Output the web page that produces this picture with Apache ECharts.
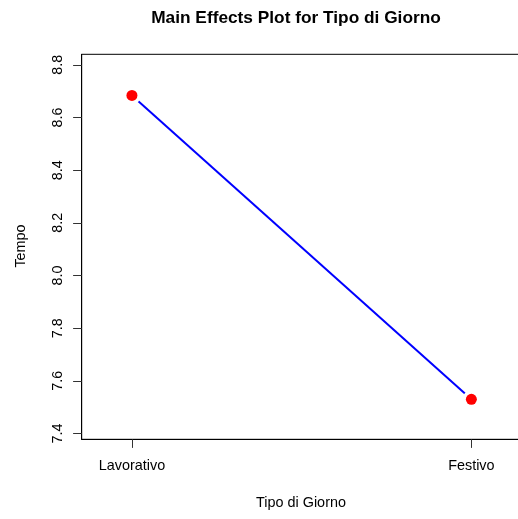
<!DOCTYPE html>
<html>
<head>
<meta charset="utf-8">
<script src="https://cdn.jsdelivr.net/npm/echarts@6/dist/echarts.min.js"></script>
<style>
  html, body { margin: 0; padding: 0; background: #ffffff; }
  #chart { width: 518px; height: 519px; }
</style>
</head>
<body>
<div id="chart"></div>
<script>
// Group levels and the mean response for each level
const categories = ['Lavorativo', 'Festivo'];
const meanTempo = [8.684, 7.530];
// Tick marks shown on the y axis
const yTicks = [7.4, 7.6, 7.8, 8.0, 8.2, 8.4, 8.6, 8.8];

const FONT = '"Liberation Sans", Arial, Helvetica, sans-serif';
const xPos = categories.map((c, i) => i + 1);
const points = meanTempo.map((v, i) => [xPos[i], v]);

const chart = echarts.init(document.getElementById('chart'), null, { renderer: 'canvas' });

chart.setOption({
  animation: false,
  backgroundColor: '#ffffff',
  grid: {
    left: 81.7, top: 54.3, right: -3.6, bottom: 79.7,
    outerBoundsMode: 'none',
    show: true, borderColor: '#000000', borderWidth: 1, backgroundColor: 'transparent'
  },
  xAxis: {
    type: 'value',
    min: 0.852, max: 2.148,
    splitLine: { show: false },
    axisLine: { show: true, lineStyle: { color: '#000000', width: 1 } },
    axisTick: { show: true, length: 8.6, lineStyle: { color: '#333333', width: 1 }, customValues: xPos },
    axisLabel: {
      customValues: xPos,
      margin: 20,
      fontFamily: FONT, fontSize: 14.4, color: '#000000',
      formatter: v => categories[Math.round(v) - 1] || ''
    }
  },
  yAxis: {
    type: 'value',
    min: 7.378, max: 8.840,
    splitLine: { show: false },
    axisLine: { show: true, lineStyle: { color: '#000000', width: 1 } },
    axisTick: { show: true, length: 8.6, lineStyle: { color: '#333333', width: 1 }, customValues: yTicks },
    axisLabel: {
      customValues: yTicks,
      rotate: 90,
      margin: 17,
      fontFamily: FONT, fontSize: 14.4, color: '#000000',
      formatter: v => v.toFixed(1)
    }
  },
  graphic: [
    {
      type: 'text', x: 296, y: 18.5,
      style: {
        text: 'Main Effects Plot for Tipo di Giorno',
        font: 'bold 17.3px ' + FONT, fill: '#000000',
        textAlign: 'center', textVerticalAlign: 'middle'
      }
    },
    {
      type: 'text', x: 301, y: 503.5,
      style: {
        text: 'Tipo di Giorno',
        font: '14.4px ' + FONT, fill: '#000000',
        textAlign: 'center', textVerticalAlign: 'middle'
      }
    },
    {
      type: 'text', x: 21, y: 246, rotation: Math.PI / 2,
      style: {
        text: 'Tempo',
        font: '14.4px ' + FONT, fill: '#000000',
        textAlign: 'center', textVerticalAlign: 'middle'
      }
    }
  ],
  series: [
    {
      type: 'line', data: points, showSymbol: false, symbol: 'none',
      lineStyle: { color: '#0000ff', width: 2 }, z: 2
    },
    {
      // white halo leaves a gap between the line and each point
      type: 'scatter', data: points, symbol: 'circle', symbolSize: 18,
      itemStyle: { color: '#ffffff', opacity: 1 }, z: 3, silent: true
    },
    {
      type: 'scatter', data: points, symbol: 'circle', symbolSize: 11,
      itemStyle: { color: '#ff0000', opacity: 1 }, z: 4
    }
  ]
});
</script>
</body>
</html>
